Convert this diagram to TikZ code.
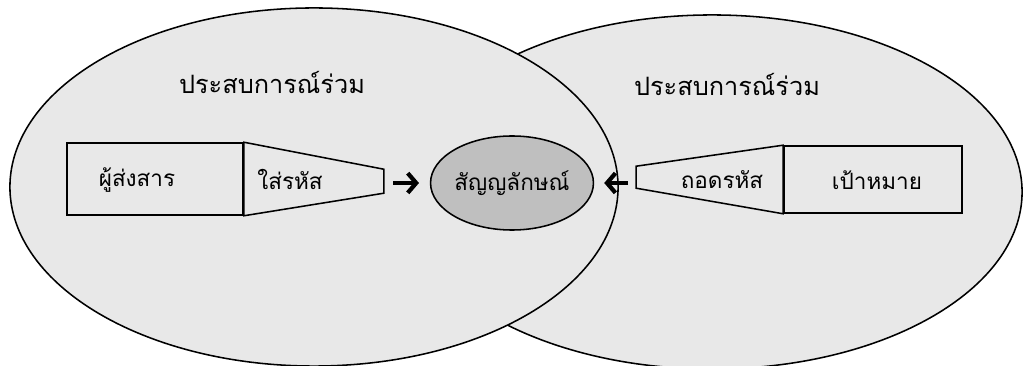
\documentclass[tikz,border=0pt]{standalone}
\usepackage{fontspec}
\newfontfamily\thaifont[Script=Thai]{Loma}
\usepackage{tikz}
\usetikzlibrary{shapes.geometric, arrows.meta, positioning, calc}

\begin{document}
\begin{tikzpicture}[
    x=0.025cm, y=-0.025cm,
    every node/.style={font=\thaifont\fontsize{16}{18}\selectfont, align=center},
    field/.style={ellipse, draw, line width=1.1pt, fill=gray!18, inner sep=0pt},
    title/.style={font=\thaifont\fontsize{18}{21}\selectfont},
    box/.style={rectangle, draw, line width=1.1pt, fill=gray!18, inner sep=0pt},
    codec/.style={draw, line width=1.1pt, fill=gray!18},
    signal/.style={ellipse, draw, line width=1.1pt, fill=gray!50,
                   minimum width=3.65cm, minimum height=2.35cm, inner sep=0pt},
    arrow/.style={-{Straight Barb[length=6pt, width=14pt]}, line width=3pt}
]
\useasboundingbox (0,0) rectangle (1027,366);
\clip (0,0) rectangle (1027,366);

% fields of experience
\node (rfield) [field, minimum width=15.5cm, minimum height=8.85cm] at (712,192) {};
\node (lfield) [field, minimum width=15.2cm, minimum height=8.95cm] at (314,187) {};
\node (ltitle) [title] at (272,82) {ประสบการณ์ร่วม};
\node (rtitle) [title] at (727,84) {ประสบการณ์ร่วม};

% sender side
\node (sender) [box, minimum width=4.4cm, minimum height=1.8cm] at (155,179) {};
\draw [codec] (sender.north east) -- ++(140,27) -- ++(0,24) -- (sender.south east) -- cycle;
\coordinate (enctip) at (383,183);
\node (sendtxt) at (137,180) {ผู้ส่งสาร};
\node (enctxt)  at (290,179) {ใส่รหัส};

% receiver side
\node (target) [box, minimum width=4.45cm, minimum height=1.675cm] at (873,179.5) {};
\draw [codec] (target.north west) -- ++(-147,21) -- ++(0,22) -- (target.south west) -- cycle;
\coordinate (dectip) at (637,183);
\node (dectxt)    at (722,180) {ถอดรหัส};
\node (targettxt) at (877,180) {เป้าหมาย};

% message
\node (symbol) [signal] at (512,183) {สัญญลักษณ์};

\draw [arrow, shorten <=0.25cm, shorten >=0.27cm] (enctip) -- (symbol.west);
\draw [arrow, shorten <=0.22cm, shorten >=0.25cm] (dectip) -- (symbol.east);
\end{tikzpicture}
\end{document}
